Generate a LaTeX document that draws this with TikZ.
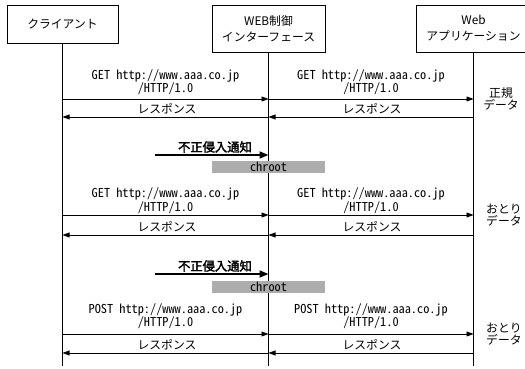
\documentclass[tikz,border=0pt]{standalone}
\usepackage{fontspec}
\setmainfont{Noto Sans CJK JP}
\newfontfamily\mono[RawFeature=+hwid]{Noto Sans CJK JP}
\newfontfamily\jpbold[FakeBold=2.5]{Noto Sans CJK JP}
\usetikzlibrary{arrows.meta}
\begin{document}
\begin{tikzpicture}[x=1pt,y=-1pt,
  actor/.style={draw, line width=0.6pt, align=center, inner sep=0pt,
    font=\fontsize{11.8}{16}\selectfont},
  lifeline/.style={line width=0.6pt},
  lbl/.style={font=\mono\fontsize{12.3}{13.5}\selectfont, align=center, inner sep=0pt},
  jlbl/.style={font=\fontsize{11.8}{13}\selectfont, inner sep=0pt},
  side/.style={font=\fontsize{11.8}{12.5}\selectfont, inner sep=0pt},
  msg/.style={-{Triangle[length=7pt,width=5pt]}, line width=0.6pt},
  alarm/.style={-{Triangle[length=9pt,width=7pt]}, line width=1.8pt},
  alabel/.style={font=\jpbold\fontsize{12.3}{13}\selectfont, inner sep=0pt},
  jail/.style={fill=black!32, inner sep=0pt, minimum width=113pt, minimum height=12pt,
    font=\mono\fontsize{12.3}{12}\selectfont}]
\useasboundingbox (0,0) rectangle (525,369);
% actors
\node[actor, minimum width=111pt, minimum height=38pt] (cl) at (62.5,24) {クライアント};
\node[actor, minimum width=113pt, minimum height=47pt] (wi) at (268.5,28.5) {WEB制御\\インターフェース};
\node[actor, minimum width=114pt, minimum height=47pt] (ap) at (473.5,28.5) {Web\\アプリケーション};
% lifeline ends
\coordinate (clE) at (62.5,366);
\coordinate (wiE) at (268.5,366);
\coordinate (apE) at (473.5,366);
\draw[lifeline] (cl.south) -- (clE);
\draw[lifeline] (wi.south) -- (wiE);
\draw[lifeline] (ap.south) -- (apE);
% message points
\foreach \n/\y in {a1/99,r1/117,a2/215,r2/235,a3/334,r3/353}{
  \coordinate (c\n) at (62.5,\y);
  \coordinate (w\n) at (268.5,\y);
  \coordinate (p\n) at (473.5,\y);
}
% group 1
\node[lbl] (g1a) at (165.5,82) {GET http://www.aaa.co.jp\\/HTTP/1.0};
\node[lbl] (g1b) at (371,82) {GET http://www.aaa.co.jp\\/HTTP/1.0};
\draw[msg] (ca1) -- (wa1);
\draw[msg] (wa1) -- (pa1);
\node[jlbl] (g1c) at (167,109) {レスポンス};
\node[jlbl] (g1d) at (372,109) {レスポンス};
\draw[msg] (wr1) -- (cr1);
\draw[msg] (pr1) -- (wr1);
\node[side, align=center] (s1) at (501,99) {正規\\データ};
% intrusion 1
\coordinate (i1s) at (155,155);
\coordinate (i1e) at (268.5,155);
\draw[alarm] (i1s) -- (i1e);
\node[alabel] (i1t) at (215,147) {不正侵入通知};
\node[jail] (j1) at (268.5,167) {chroot};
% group 2
\node[lbl] (g2a) at (165.5,200.5) {GET http://www.aaa.co.jp\\/HTTP/1.0};
\node[lbl] (g2b) at (371,200.5) {GET http://www.aaa.co.jp\\/HTTP/1.0};
\draw[msg] (ca2) -- (wa2);
\draw[msg] (wa2) -- (pa2);
\node[jlbl] (g2c) at (167,227) {レスポンス};
\node[jlbl] (g2d) at (372,227) {レスポンス};
\draw[msg] (wr2) -- (cr2);
\draw[msg] (pr2) -- (wr2);
\node[side, align=left, anchor=west] (s2) at (486,215) {おとり\\データ};
% intrusion 2
\coordinate (i2s) at (155,274);
\coordinate (i2e) at (268.5,274);
\draw[alarm] (i2s) -- (i2e);
\node[alabel] (i2t) at (215,266) {不正侵入通知};
\node[jail] (j2) at (268.5,287) {chroot};
% group 3
\node[lbl] (g3a) at (165.5,316) {POST http://www.aaa.co.jp\\/HTTP/1.0};
\node[lbl] (g3b) at (371,316) {POST http://www.aaa.co.jp\\/HTTP/1.0};
\draw[msg] (ca3) -- (wa3);
\draw[msg] (wa3) -- (pa3);
\node[jlbl] (g3c) at (167,345) {レスポンス};
\node[jlbl] (g3d) at (372,345) {レスポンス};
\draw[msg] (wr3) -- (cr3);
\draw[msg] (pr3) -- (wr3);
\node[side, align=left, anchor=west] (s3) at (486,334) {おとり\\データ};
\end{tikzpicture}
\end{document}
